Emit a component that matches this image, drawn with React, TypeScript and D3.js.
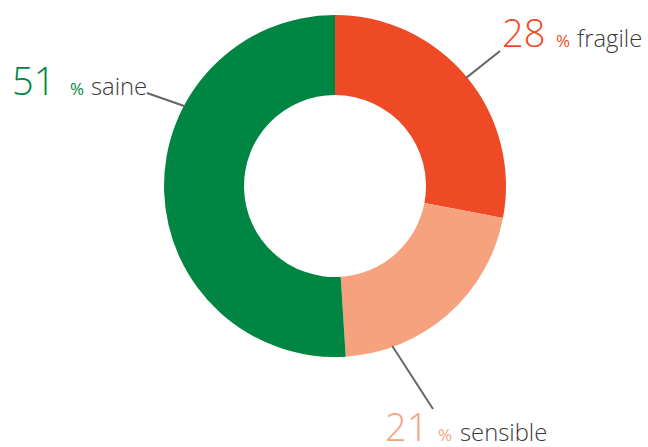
import React from "react";
import * as d3 from "d3";

const categories = ["fragile", "sensible", "saine"];
const values = [28, 21, 51];
const colors = ["#EF4A26", "#F7A27F", "#008542"];

// layout for labels (positions only)
const labelLayout = [
  { angle: 50.5, end: [500, 51], numX: 502, pctX: 556, txtX: 577, y: 47 },
  { angle: 160.3, end: [433, 409], numX: 385, pctX: 438, txtX: 460, y: 441 },
  { angle: 298, end: [147, 93], numX: 12, pctX: 70, txtX: 91, y: 95 },
];

const W = 648, H = 447;
const cx = 335, cy = 186, R = 171, r = 91;

export default function App() {
  const pie = d3.pie<number>().sort(null).value((d) => d)(values);
  const arc = d3.arc<d3.PieArcDatum<number>>().innerRadius(r).outerRadius(R);
  return (
    <svg width={W} height={H} style={{ position: "absolute", left: 0, top: 0 }}
      fontFamily="'Open Sans', sans-serif">
      <g transform={`translate(${cx},${cy})`}>
        {pie.map((p, i) => (
          <path key={categories[i]} d={arc(p) || ""} fill={colors[i]} />
        ))}
      </g>
      {categories.map((c, i) => {
        const L = labelLayout[i];
        const a = (L.angle * Math.PI) / 180;
        const sx = cx + (R - 1) * Math.sin(a);
        const sy = cy - (R - 1) * Math.cos(a);
        return (
          <g key={c}>
            <line x1={sx} y1={sy} x2={L.end[0]} y2={L.end[1]} stroke="#666" strokeWidth={2} />
            <text x={L.numX} y={L.y} fontSize={38} fontWeight={300} fill={colors[i]}>{values[i]}</text>
            <text x={L.pctX} y={L.y} fontSize={17} fill={colors[i]}>%</text>
            <text x={L.txtX} y={L.y} fontSize={23.8} fontWeight={300} fill="#3a3a3a">{c}</text>
          </g>
        );
      })}
    </svg>
  );
}
